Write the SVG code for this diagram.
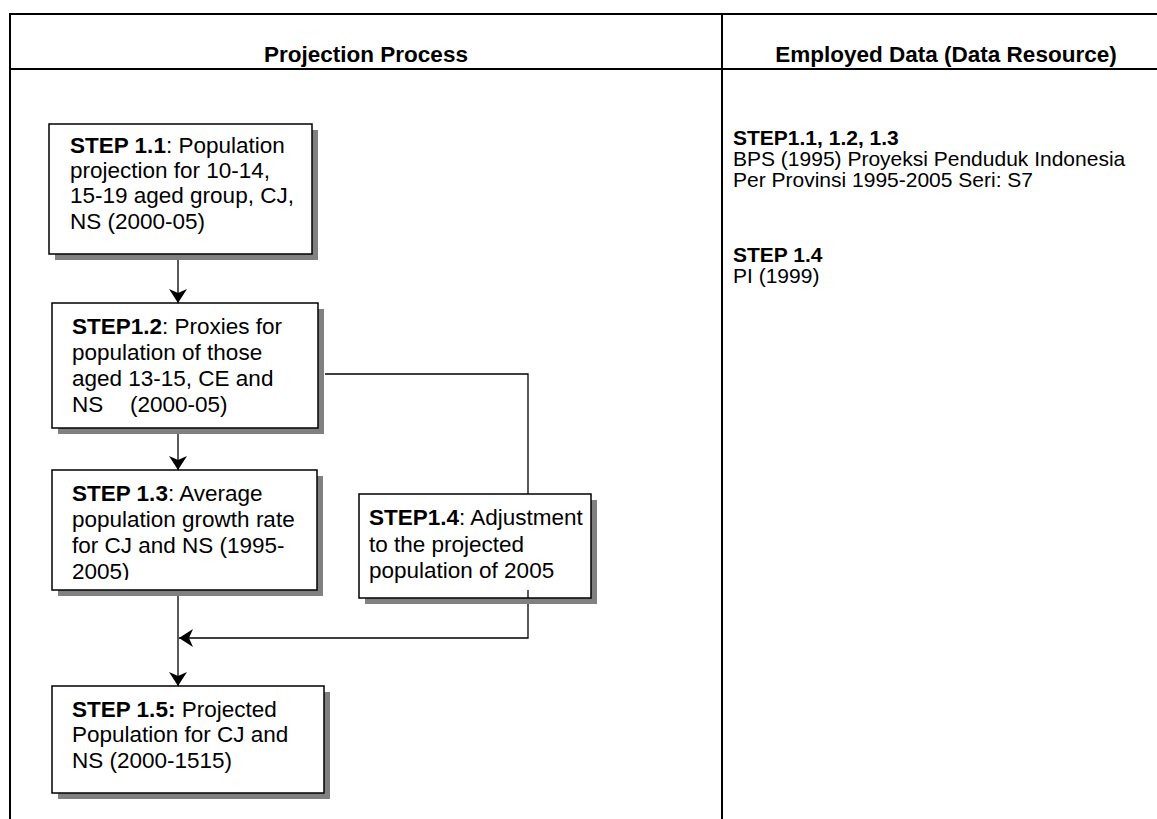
<svg xmlns="http://www.w3.org/2000/svg" width="1157" height="819" viewBox="0 0 1157 819">
  <style>
    .grid { stroke: #000; stroke-width: 2; fill: none; }
    .hdr { font-family: "Liberation Sans", Arial, sans-serif; font-size: 22.5px; font-weight: bold; fill: #000; }
    .txt { font-family: "Liberation Sans", Arial, sans-serif; font-size: 22.5px; fill: #000; }
    .src { font-family: "Liberation Sans", Arial, sans-serif; font-size: 21px; fill: #000; }
    .b { font-weight: bold; }
    .box { fill: #fff; stroke: #000; stroke-width: 1.5; }
    .shadow { fill: #808080; }
    .conn { stroke: #000; stroke-width: 1.3; fill: none; }
  </style>
  <defs>
    <marker id="arrow" markerUnits="userSpaceOnUse" viewBox="-14 -10 15 20" refX="0" refY="0" markerWidth="15" markerHeight="20" orient="auto">
      <path d="M0,0 L-14,-9 L-10,0 L-14,9 Z" fill="#000"/>
    </marker>
    <clipPath id="clip13">
      <rect x="52" y="470" width="265" height="110"/>
    </clipPath>
  </defs>

  <rect width="1157" height="819" fill="#fff"/>

  <!-- table frame -->
  <g id="table">
    <path class="grid" d="M10,819 V14 H1157"/>
    <path class="grid" d="M10,69 H1157"/>
    <path class="grid" d="M722,14 V819"/>
    <text class="hdr" x="366" y="62" text-anchor="middle">Projection Process</text>
    <text class="hdr" x="946" y="62" text-anchor="middle">Employed Data (Data Resource)</text>
  </g>

  <!-- data sources -->
  <g id="sources" class="src">
    <text x="733" y="145" class="b">STEP1.1, 1.2, 1.3</text>
    <text x="733" y="166">BPS (1995) Proyeksi Penduduk Indonesia</text>
    <text x="733" y="187">Per Provinsi 1995-2005 Seri: S7</text>
    <text x="733" y="262" class="b">STEP 1.4</text>
    <text x="733" y="283">PI (1999)</text>
  </g>

  <!-- connectors -->
  <g id="connectors">
    <path class="conn" d="M178,254 V303" marker-end="url(#arrow)"/>
    <path class="conn" d="M178,428 V470" marker-end="url(#arrow)"/>
    <path class="conn" d="M325,374 H528 V494"/>
    <path class="conn" d="M528,590 V638 H179" marker-end="url(#arrow)"/>
    <path class="conn" d="M178,590 V686" marker-end="url(#arrow)"/>
  </g>

  <g id="step11">
    <rect class="shadow" x="55" y="130" width="263" height="130"/>
    <rect class="box" x="49" y="124" width="263" height="130"/>
    <text class="txt" x="70" y="153"><tspan class="b">STEP 1.1</tspan>: Population</text>
    <text class="txt" x="70" y="178">projection for 10-14,</text>
    <text class="txt" x="70" y="203">15-19 aged group, CJ,</text>
    <text class="txt" x="70" y="229">NS (2000-05)</text>
  </g>

  <g id="step12">
    <rect class="shadow" x="58" y="309" width="266" height="125"/>
    <rect class="box" x="52" y="303" width="266" height="125"/>
    <text class="txt" x="72" y="334"><tspan class="b">STEP1.2</tspan>: Proxies for</text>
    <text class="txt" x="72" y="360">population of those</text>
    <text class="txt" x="72" y="386">aged 13-15, CE and</text>
    <text class="txt" x="72" y="412">NS<tspan x="130">(2000-05)</tspan></text>
  </g>

  <g id="step13">
    <rect class="shadow" x="58" y="476" width="265" height="120"/>
    <rect class="box" x="52" y="470" width="265" height="120"/>
    <g clip-path="url(#clip13)">
      <text class="txt" x="72" y="501"><tspan class="b">STEP 1.3</tspan>: Average</text>
      <text class="txt" x="72" y="527">population growth rate</text>
      <text class="txt" x="72" y="553">for CJ and NS (1995-</text>
      <text class="txt" x="72" y="579">2005)</text>
    </g>
  </g>

  <g id="step14">
    <rect class="shadow" x="365" y="500" width="232" height="104"/>
    <rect class="box" x="359" y="494" width="232" height="104"/>
    <path class="conn" d="M528,590 V598"/>
    <text class="txt" x="369" y="525"><tspan class="b">STEP1.4</tspan>: Adjustment</text>
    <text class="txt" x="369" y="552">to the projected</text>
    <text class="txt" x="369" y="578">population of 2005</text>
  </g>

  <g id="step15">
    <rect class="shadow" x="58" y="692" width="272" height="107"/>
    <rect class="box" x="52" y="686" width="272" height="107"/>
    <text class="txt" x="72" y="717"><tspan class="b">STEP 1.5:</tspan> Projected</text>
    <text class="txt" x="72" y="742">Population for CJ and</text>
    <text class="txt" x="72" y="768">NS (2000-1515)</text>
  </g>
</svg>
